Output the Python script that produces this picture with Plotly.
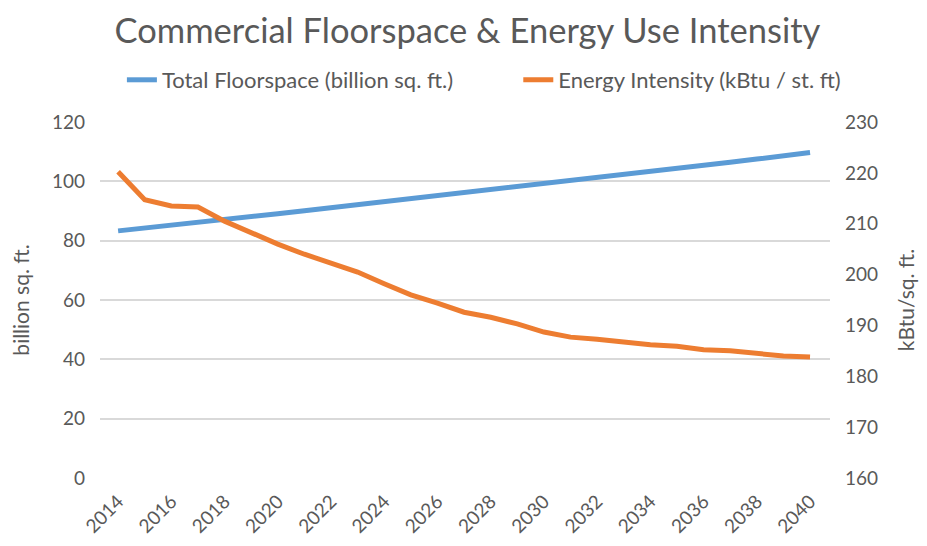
import plotly.graph_objects as go

years = list(range(2014, 2041))
floorspace = [83.3, 84.2, 85.1, 86.1, 87.1, 88.1, 89.1, 90.1, 91.1, 92.1,
              93.1, 94.1, 95.1, 96.1, 97.1, 98.1, 99.1, 100.1, 101.1, 102.1,
              103.2, 104.2, 105.3, 106.4, 107.5, 108.6, 109.7]
intensity = [220.2, 214.7, 213.5, 213.3, 210.5, 208.2, 206.0, 204.0, 202.3, 200.5,
             198.2, 196.0, 194.4, 192.6, 191.6, 190.3, 188.7, 187.7, 187.3, 186.7,
             186.2, 185.9, 185.2, 185.0, 184.4, 184.0, 183.8]

font_name = "Lato"
grey = "#595959"

fig = go.Figure()
fig.add_trace(go.Scatter(x=years, y=floorspace, name="Total Floorspace (billion sq. ft.)",
                         mode="lines", line=dict(color="#5b9bd5", width=5),
                         legend="legend", showlegend=True))
fig.add_trace(go.Scatter(x=years, y=intensity, name="Energy Intensity (kBtu / st. ft)",
                         mode="lines", line=dict(color="#ed7d31", width=5), yaxis="y2",
                         legend="legend2", showlegend=True))

# page body has an 8px margin, so the figure is shrunk by 8px and margins shifted
fig.update_layout(
    width=919, height=538,
    showlegend=True,
    paper_bgcolor="white", plot_bgcolor="white",
    margin=dict(l=92, r=97, t=114, b=68),
    font=dict(family=font_name, color=grey, size=19),
    title=dict(text="Commercial Floorspace & Energy Use Intensity",
               x=0.5, xanchor="center", y=0.958, yanchor="middle",
               font=dict(size=34.5, color=grey)),
    legend=dict(orientation="h", x=0.03, xanchor="left", y=1.118, yanchor="middle",
                font=dict(size=22, color=grey)),
    legend2=dict(orientation="h", x=0.573, xanchor="left", y=1.118, yanchor="middle",
                 font=dict(size=22, color=grey)),
    xaxis=dict(range=[2013.32, 2040.75], tickmode="array",
               tickvals=years[::2], ticktext=[str(y) for y in years[::2]],
               tickangle=-45, showgrid=False, zeroline=False, showline=False,
               automargin=False, ticks="outside", ticklen=4,
               tickcolor="rgba(0,0,0,0)", tickfont=dict(size=19)),
    yaxis=dict(range=[0, 120], dtick=20, gridcolor="#d9d9d9", gridwidth=1.5,
               zeroline=False, showline=False, ticks="", ticklabelstandoff=14,
               title=dict(text="billion sq. ft.", font=dict(size=21, color=grey), standoff=22),
               automargin=False),
    yaxis2=dict(range=[160, 230], dtick=10, overlaying="y", side="right",
                showgrid=False, zeroline=False, showline=False, ticks="",
                ticklabelstandoff=14,
                title=dict(text="kBtu/sq. ft.", font=dict(size=21, color=grey), standoff=22),
                automargin=False),
)

fig.write_html("out.html")
